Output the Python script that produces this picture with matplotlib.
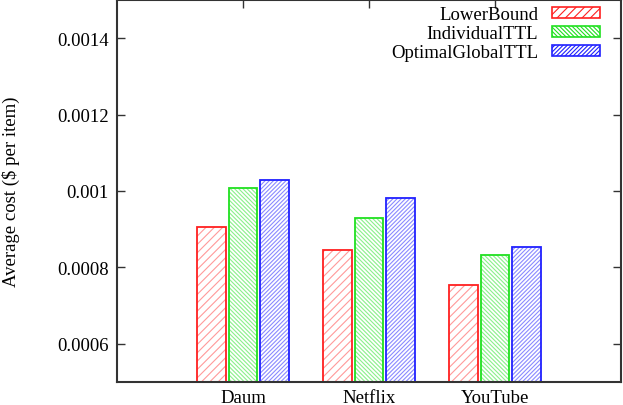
import matplotlib
matplotlib.use('Agg')
from matplotlib import pyplot as plt
import numpy as np

plt.rcParams['font.family'] = ['Liberation Serif', 'DejaVu Serif']
plt.rcParams['hatch.linewidth'] = 0.8

# data
sites = ['Daum', 'Netflix', 'YouTube']
series = ['LowerBound', 'IndividualTTL', 'OptimalGlobalTTL']
lower_bound = [0.000905, 0.000845, 0.000755]
individual_ttl = [0.001008, 0.000929, 0.000833]
optimal_global_ttl = [0.001029, 0.000982, 0.000854]
yticks = [0.0006, 0.0008, 0.001, 0.0012, 0.0014]
ytick_labels = ['0.0006', '0.0008', '0.001', '0.0012', '0.0014']

edge_cols = ['#ff2020', '#20e020', '#2020ff']
hatch_cols = ['#ff9a9a', '#8af08a', '#8a8aff']
hatches = ['////', '\\' * 8, '/' * 8]

fig = plt.figure(figsize=(6.23, 4.06), dpi=100)
ax = fig.add_axes([117/623, 1-383/406, (621-117)/623, (383-1)/406])

x = np.arange(len(sites))
w = 0.225
vals = [lower_bound, individual_ttl, optimal_global_ttl]
for i, v in enumerate(vals):
	pos = x + (i-1)*0.25
	base = 0.0005
	h = [val-base for val in v]
	ax.bar(pos, h, w, bottom=base, color='white', edgecolor=hatch_cols[i],
		hatch=hatches[i], linewidth=0, zorder=2)
	ax.bar(pos, h, w, bottom=base, fill=False, edgecolor=edge_cols[i],
		linewidth=1.3, zorder=3)

# legend proxies
handles = []
for i in range(3):
	p = matplotlib.patches.Patch(facecolor='white', edgecolor=edge_cols[i],
		hatch=hatches[i], linewidth=1.2)
	handles.append(p)
leg = ax.legend(handles, series, loc='upper right', markerfirst=False, frameon=False,
	fontsize=13.5, handlelength=2.6, handleheight=0.55, labelspacing=0.1,
	handletextpad=0.7, borderaxespad=0.3, bbox_to_anchor=(0.985, 1.018))

ax.set_xlim(-1, 3)
ax.set_ylim(0.0005, 0.0015)
ax.set_xticks(x)
ax.set_xticklabels(sites)
ax.set_yticks(yticks)
ax.set_yticklabels(ytick_labels)
ax.tick_params(axis='both', direction='in', length=6, width=1, labelsize=13.5,
	top=True, right=True, color='#333333')
ax.tick_params(axis='x', pad=5)
ax.tick_params(axis='y', pad=6)
for s in ax.spines.values():
	s.set_linewidth(1.5)
	s.set_color('#333333')
	s.set_zorder(5)
ax.set_ylabel(r'Average cost (\$ per item)', fontsize=13.5, labelpad=27)

plt.savefig('out.png', dpi=100)
